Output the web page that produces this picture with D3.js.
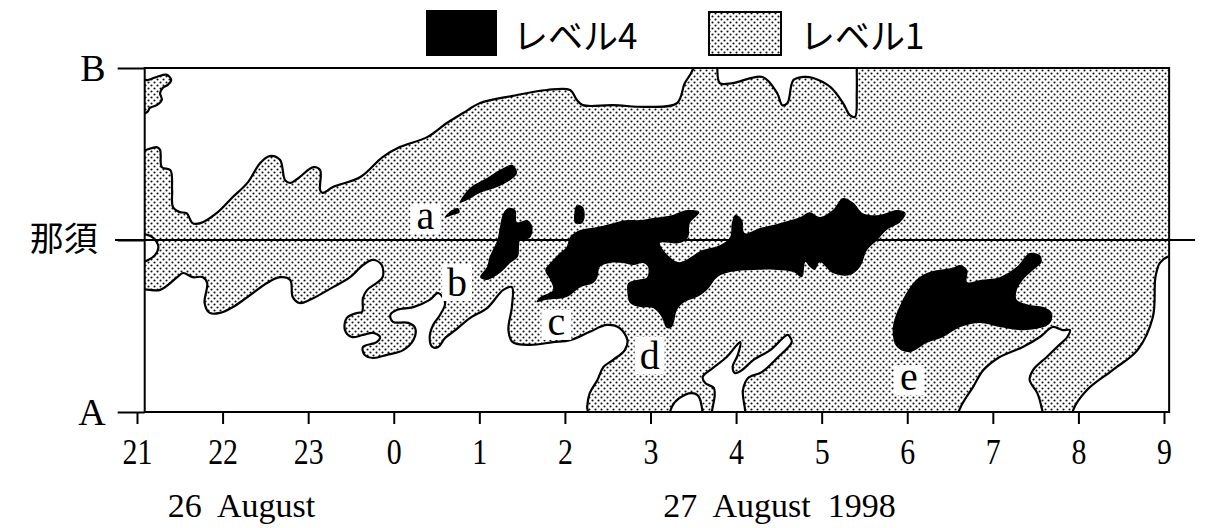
<!DOCTYPE html>
<html>
<head>
<meta charset="utf-8">
<script src="https://cdn.jsdelivr.net/npm/d3@7"></script>
<style>
body { margin: 0; background: #fff; }
svg { display: block; }
</style>
</head>
<body>
<script>
// time runs on from 21h (26 Aug) to 33h (= 9h on 27 Aug)
const hours = d3.range(21, 34);
const hourLabels = hours.map(h => String(h % 24));
// position along the section A -> B, 那須 in the middle
const stations = [0, 50, 100];
const stationLabels = ["A", "那須", "B"];
const legendLabels = ["レベル4", "レベル1"];
const dateLabels = ["26  August", "27  August  1998"];
const dateHours = [21.36, 27.15];
const frameHours = [21.09, 33.06];

// outlines are [hour, position]; points just outside the frame get clipped
const clearAreas = [
  // upper left, no echo
  [[21.0,103],[27.52,103],[27.48,98.8],[27.40,95.6],[27.31,89.8],[26.96,88.7],[26.56,89.2],[26.21,89.2],[26.14,90.7],[26.06,93.6],[25.79,93.6],[25.39,91.9],[25.01,89.8],[24.81,86.9],[24.62,84.0],[24.39,79.9],[24.07,77.0],[23.87,74.1],[23.61,68.3],[23.29,65.4],[23.17,63.7],[23.14,64.5],[23.14,70.3],[23.06,71.2],[22.90,68.3],[22.79,66.6],[22.73,67.4],[22.67,73.3],[22.55,74.4],[22.44,72.4],[22.29,66.6],[22.12,62.5],[21.93,57.8],[21.74,54.9],[21.65,54.9],[21.58,57.8],[21.50,58.1],[21.42,59.6],[21.41,64.5],[21.39,70.3],[21.29,71.2],[21.27,76.2],[21.23,77.0],[21.0,76.2]],
  // lower left
  [[21.0,34.9],[21.27,35.5],[21.47,39.2],[21.54,40.4],[21.65,39.2],[21.77,39.2],[21.82,37.5],[21.79,31.7],[21.85,28.8],[21.97,28.8],[22.12,30.5],[22.29,33.4],[22.52,37.5],[22.67,39.2],[22.79,38.4],[22.82,33.4],[22.90,31.7],[23.02,32.6],[23.29,36.3],[23.49,39.2],[23.64,42.7],[23.76,44.2],[23.86,42.7],[23.87,39.2],[23.80,37.5],[23.69,35.5],[23.64,33.1],[23.63,29.1],[23.57,28.8],[23.45,27.3],[23.43,23.8],[23.51,21.8],[23.64,22.4],[23.76,23.0],[23.84,21.8],[23.80,20.3],[23.64,18.9],[23.66,16.6],[23.76,15.7],[23.92,16.6],[24.11,18.0],[24.23,20.9],[24.25,24.4],[24.17,25.9],[23.99,26.2],[23.96,28.2],[24.04,29.7],[24.23,30.5],[24.42,32.6],[24.52,34.6],[24.60,31.7],[24.54,28.2],[24.46,25.3],[24.42,21.8],[24.45,18.9],[24.52,18.9],[24.60,21.5],[24.72,23.8],[24.89,27.3],[25.09,30.2],[25.28,35.5],[25.38,36.3],[25.38,30.5],[25.34,23.8],[25.39,20.3],[25.59,19.5],[25.86,20.3],[26.06,20.9],[26.29,23.3],[26.49,25.3],[26.64,24.4],[26.73,20.9],[26.70,18.0],[26.56,15.1],[26.45,13.1],[26.38,9.3],[26.29,5.5],[26.26,1.5],[26.27,-3],[21.0,-3]],
  // notch from the top near 5h
  [[27.78,103],[27.78,100],[27.81,95.6],[27.96,95.6],[28.31,97.4],[28.48,92.7],[28.54,89.2],[28.60,89.8],[28.67,96.5],[28.78,97.4],[28.90,97.1],[29.10,94.5],[29.25,89.8],[29.33,86.3],[29.39,85.8],[29.41,92.7],[29.41,100],[29.41,103]],
  // small bump at the bottom near 3h30
  [[27.23,-3],[27.25,1.5],[27.34,4.1],[27.48,5.5],[27.55,4.9],[27.59,2.6],[27.59,-3]],
  // two fingers near 4h
  [[27.73,-3],[27.75,4.9],[27.74,7.0],[27.64,8.4],[27.61,10.2],[27.73,12.8],[27.89,16.0],[28.01,19.5],[28.05,20.3],[28.02,16.6],[27.96,13.1],[27.99,11.3],[28.07,12.2],[28.20,15.1],[28.40,18.0],[28.60,22.4],[28.63,21.8],[28.65,20.3],[28.48,15.7],[28.30,11.6],[28.14,9.9],[28.08,6.4],[28.09,-3]],
  // below e
  [[30.58,-3],[30.62,1.2],[30.77,7.3],[30.89,12.2],[31.08,16.0],[31.35,18.9],[31.55,21.8],[31.70,24.7],[31.82,23.8],[31.90,23.8],[31.87,21.8],[31.75,18.9],[31.63,16.0],[31.47,12.2],[31.43,9.3],[31.52,5.5],[31.57,1.2],[31.59,-3]],
  // lower right corner
  [[31.94,-3],[31.94,0.6],[32.10,6.4],[32.40,12.2],[32.69,18.0],[32.87,27.6],[32.90,39.2],[32.95,43.3],[33.04,45.1],[33.2,45.3],[33.2,-3]],
  // little gap at 那須, 21h
  [[21.0,51.5],[21.12,51.5],[21.19,50.6],[21.25,48.0],[21.21,45.6],[21.13,44.2],[21.0,43.3]]
];

const level1Islands = [
  [[21.0,97.1],[21.12,96.5],[21.23,97.4],[21.35,98.0],[21.40,96.5],[21.36,95.1],[21.30,94.2],[21.27,92.7],[21.29,90.7],[21.23,89.2],[21.15,88.4],[21.12,87.2],[21.0,86.9]]
];

const level4Areas = [
  // a
  [[24.77,60.8],[24.89,65.1],[25.09,68.0],[25.28,70.9],[25.39,71.8],[25.44,69.5],[25.36,67.4],[25.21,65.4],[25.01,63.7],[24.86,61.6]],
  [[24.60,56.7],[24.68,58.7],[24.75,59.3],[24.77,58.1],[24.69,57.3],[24.62,56.7]],
  // b
  [[25.28,57.8],[25.34,59.3],[25.42,58.7],[25.44,55.2],[25.56,55.8],[25.62,53.8],[25.59,50.6],[25.48,50.0],[25.45,45.1],[25.36,43.3],[25.24,40.4],[25.09,38.4],[25.01,39.2],[25.09,42.2],[25.12,45.1],[25.21,50.0],[25.24,53.8]],
  [[26.14,60.2],[26.21,59.6],[26.23,56.7],[26.20,54.9],[26.12,54.9],[26.11,57.8]],
  // c - d band
  [[27.26,57.3],[27.43,58.7],[27.57,58.1],[27.46,54.9],[27.44,50.9],[27.34,49.1],[27.11,49.1],[27.32,43.6],[27.61,47.1],[27.81,48.5],[27.93,50.9],[27.95,54.9],[27.99,57.3],[28.07,55.8],[28.10,52.0],[28.28,53.5],[28.51,54.9],[28.75,56.7],[28.86,58.1],[28.98,56.7],[29.13,58.7],[29.25,62.2],[29.37,60.8],[29.48,57.8],[29.68,57.3],[29.88,58.7],[29.98,57.8],[29.92,55.2],[29.76,52.9],[29.65,50.0],[29.53,47.1],[29.45,42.2],[29.33,39.8],[29.13,40.4],[28.98,43.6],[28.92,41.3],[28.86,42.2],[28.81,43.6],[28.77,39.2],[28.67,40.7],[28.48,41.3],[28.20,41.3],[27.93,40.7],[27.78,39.2],[27.66,35.5],[27.54,33.4],[27.38,31.7],[27.31,29.7],[27.25,24.7],[27.19,24.4],[27.13,27.6],[27.03,30.2],[26.88,30.5],[26.76,31.7],[26.73,34.6],[26.74,37.5],[26.84,38.4],[26.96,39.2],[26.97,42.2],[26.91,43.3],[26.80,42.7],[26.68,43.3],[26.53,43.3],[26.41,42.2],[26.38,39.2],[26.33,37.5],[26.18,36.3],[26.02,33.4],[25.79,32.6],[25.67,32.0],[25.71,33.4],[25.86,35.5],[25.83,38.4],[25.77,41.3],[25.83,43.3],[25.94,46.2],[26.02,48.0],[26.06,50.9],[26.18,52.9],[26.38,53.8],[26.56,54.9],[26.73,55.8],[26.88,55.8],[27.03,56.4]],
  // e
  [[29.83,23.0],[29.86,27.6],[30.07,37.5],[30.23,40.4],[30.53,41.9],[30.62,42.7],[30.70,41.3],[30.70,37.8],[30.85,38.4],[31.08,39.2],[31.28,42.2],[31.43,46.2],[31.55,45.6],[31.57,43.6],[31.47,41.3],[31.35,38.4],[31.28,35.5],[31.28,32.6],[31.43,31.1],[31.59,30.5],[31.69,28.8],[31.67,25.9],[31.55,24.4],[31.32,23.8],[31.08,24.7],[30.85,25.9],[30.62,24.7],[30.42,21.8],[30.23,20.1],[30.03,17.4],[29.88,18.9]]
];

const letters = ["a", "b", "c", "d", "e"];
const letterHours = [24.37, 24.74, 25.90, 26.99, 30.02];
const letterPos = [53.2, 33.7, 22.4, 12.5, 6.4];

const width = 1205, height = 528;
const serif = "'Liberation Serif', 'DejaVu Serif', serif";
const cjk = "'Noto Sans CJK JP', 'Noto Sans', sans-serif";

const x = d3.scaleLinear().domain([21, 33]).range([137, 1164]);
const y = d3.scaleLinear().domain([0, 100]).range([412, 68]);

const svg = d3.select("body").append("svg")
    .attr("width", width)
    .attr("height", height);

const defs = svg.append("defs");
const pat = defs.append("pattern")
    .attr("id", "dots")
    .attr("patternUnits", "userSpaceOnUse")
    .attr("width", 6)
    .attr("height", 6);
pat.append("rect").attr("width", 6).attr("height", 6).attr("fill", "#fff");
pat.append("circle").attr("cx", 1.5).attr("cy", 1.5).attr("r", 1.05).attr("fill", "#111");
pat.append("circle").attr("cx", 4.5).attr("cy", 4.5).attr("r", 1.05).attr("fill", "#111");

const x0 = x(frameHours[0]), x1 = x(frameHours[1]);
defs.append("clipPath").attr("id", "plot")
  .append("rect")
    .attr("x", x0).attr("y", y(100))
    .attr("width", x1 - x0).attr("height", y(0) - y(100));

const shape = d3.line()
    .x(d => x(d[0]))
    .y(d => y(d[1]))
    .curve(d3.curveCatmullRomClosed.alpha(0.5));

const plot = svg.append("g").attr("clip-path", "url(#plot)");

// level 1 everywhere, then cut out the clear parts
plot.append("rect")
    .attr("x", x0).attr("y", y(100))
    .attr("width", x1 - x0).attr("height", y(0) - y(100))
    .attr("fill", "url(#dots)");

plot.selectAll("path.clear")
  .data(clearAreas)
  .enter().append("path")
    .attr("class", "clear")
    .attr("d", shape)
    .attr("fill", "#fff")
    .attr("stroke", "#000")
    .attr("stroke-width", 2.2)
    .attr("stroke-linejoin", "round");

plot.selectAll("path.island")
  .data(level1Islands)
  .enter().append("path")
    .attr("class", "island")
    .attr("d", shape)
    .attr("fill", "url(#dots)")
    .attr("stroke", "#000")
    .attr("stroke-width", 2.2);

// 那須 line
svg.append("line")
    .attr("x1", 115).attr("x2", 1195)
    .attr("y1", y(50)).attr("y2", y(50))
    .attr("stroke", "#000")
    .attr("stroke-width", 2);

plot.selectAll("path.level4")
  .data(level4Areas)
  .enter().append("path")
    .attr("class", "level4")
    .attr("d", shape)
    .attr("fill", "#000");

// letters with their white boxes
const lab = svg.append("g");
lab.selectAll("rect")
  .data(letters)
  .enter().append("rect")
    .attr("x", (d, i) => x(letterHours[i]) - 15)
    .attr("y", (d, i) => y(letterPos[i]) - (d === "b" || d === "d" ? 32 : 25))
    .attr("width", 30)
    .attr("height", (d) => d === "b" || d === "d" ? 37 : 30)
    .attr("fill", "#fff");
lab.selectAll("text")
  .data(letters)
  .enter().append("text")
    .attr("x", (d, i) => x(letterHours[i]))
    .attr("y", (d, i) => y(letterPos[i]))
    .attr("text-anchor", "middle")
    .attr("font-family", serif)
    .attr("font-size", 40)
    .text(d => d);

// frame
svg.append("rect")
    .attr("x", x0).attr("y", y(100))
    .attr("width", x1 - x0).attr("height", y(0) - y(100))
    .attr("fill", "none")
    .attr("stroke", "#000")
    .attr("stroke-width", 2);

// bottom axis
const xAxis = svg.append("g")
    .attr("transform", `translate(0,${y(0)})`)
    .call(d3.axisBottom(x).tickValues(hours).tickFormat((d, i) => hourLabels[i]).tickSize(12).tickPadding(14));
xAxis.select(".domain").remove();
xAxis.selectAll("line").attr("stroke", "#000").attr("stroke-width", 2);
xAxis.selectAll("text")
    .attr("font-family", serif)
    .attr("font-size", 36)
    .attr("fill", "#000")
    .attr("transform", "scale(0.83,1)");

// left axis
const yAxis = svg.append("g")
    .attr("transform", `translate(${x0},0)`)
    .call(d3.axisLeft(y).tickValues(stations).tickFormat((d, i) => stationLabels[i]).tickSize(27).tickPadding(12));
yAxis.select(".domain").remove();
yAxis.selectAll("line").attr("stroke", "#000").attr("stroke-width", 2);
yAxis.selectAll("text")
    .attr("fill", "#000")
    .attr("font-family", (d) => d === 50 ? cjk : serif)
    .attr("font-size", (d) => d === 50 ? 34 : 38)
    .attr("dx", (d) => d === 50 ? -8 : 0);

// dates
svg.selectAll("text.date")
  .data(dateLabels)
  .enter().append("text")
    .attr("class", "date")
    .attr("x", (d, i) => x(dateHours[i]))
    .attr("y", 517)
    .attr("font-family", serif)
    .attr("font-size", 34)
    .style("white-space", "pre")
    .text(d => d);

// legend
const legend = svg.append("g");
legend.append("rect")
    .attr("x", 426).attr("y", 10).attr("width", 71).attr("height", 46)
    .attr("fill", "#000");
legend.append("rect")
    .attr("x", 709).attr("y", 12).attr("width", 72).attr("height", 43)
    .attr("fill", "url(#dots)")
    .attr("stroke", "#000")
    .attr("stroke-width", 2);
legend.selectAll("text")
  .data(legendLabels)
  .enter().append("text")
    .attr("x", (d, i) => [513, 800][i])
    .attr("y", 33)
    .attr("dominant-baseline", "central")
    .attr("font-family", cjk)
    .attr("font-size", 35)
    .text(d => d);
</script>
</body>
</html>
